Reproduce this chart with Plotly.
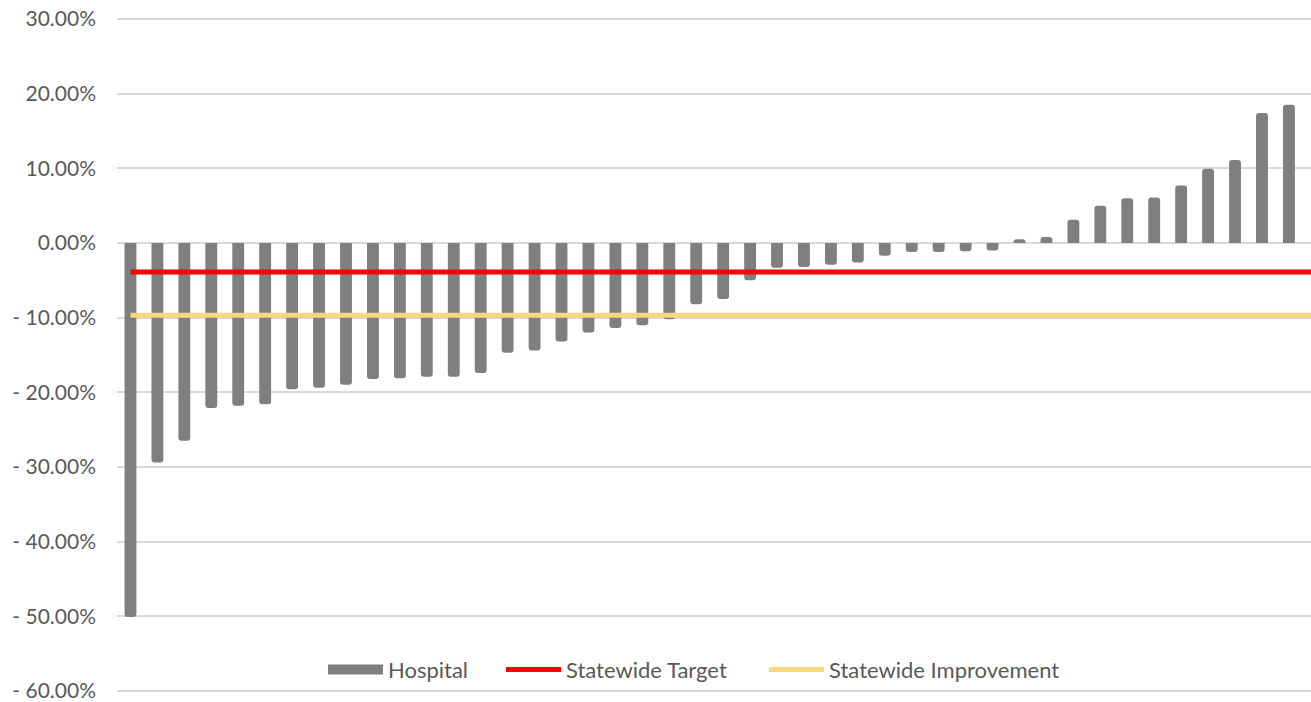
import plotly.graph_objects as go

# Change in rate per hospital, sorted ascending (percent)
hospital_change = [
    -50.1, -29.4, -26.5, -22.1, -21.8, -21.6, -19.6, -19.4, -19.0, -18.2,
    -18.1, -17.9, -17.9, -17.4, -14.7, -14.4, -13.2, -12.0, -11.4, -11.0,
    -10.2, -8.2, -7.5, -5.0, -3.3, -3.2, -2.9, -2.6, -1.7, -1.2,
    -1.2, -1.1, -1.0, 0.5, 0.8, 3.1, 5.0, 6.0, 6.1, 7.7,
    9.95, 11.1, 17.4, 18.5,
]
hospital_index = list(range(len(hospital_change)))

statewide_target = -3.88
statewide_improvement = -9.68

tick_values = [30, 20, 10, 0, -10, -20, -30, -40, -50, -60]
tick_labels = ["30.00%", "20.00%", "10.00%", "0.00%", "- 10.00%", "- 20.00%",
               "- 30.00%", "- 40.00%", "- 50.00%", "- 60.00%"]

FONT = "Lato"
TEXT_COLOR = "#595959"
LEGEND_FONT = dict(family=FONT, size=22, color=TEXT_COLOR)

fig = go.Figure()

fig.add_trace(go.Bar(
    x=hospital_index,
    y=hospital_change,
    name="Hospital",
    width=0.44,
    marker=dict(color="#7f7f7f", line=dict(width=0), cornerradius=3),
    showlegend=False,
))

# Reference lines run from the first hospital across the rest of the axis
line_x = [hospital_index[0], hospital_index[-1] + 2]

# Legend swatch for the bars (wide grey block)
fig.add_trace(go.Scatter(
    x=[None], y=[None], mode="lines", name="Hospital",
    line=dict(color="#7f7f7f", width=15), legend="legend",
))
fig.add_trace(go.Scatter(
    x=line_x, y=[statewide_target] * 2, mode="lines", name="Statewide Target",
    line=dict(color="#ff0000", width=5), legend="legend2",
))
fig.add_trace(go.Scatter(
    x=line_x, y=[statewide_improvement] * 2, mode="lines",
    name="Statewide Improvement",
    line=dict(color="#f9d77b", width=5), legend="legend3",
))


def legend_box(x):
    return dict(
        orientation="h", x=x, xanchor="left", y=0.036, yanchor="middle",
        bgcolor="rgba(255,255,255,0)", itemwidth=55, font=LEGEND_FONT,
    )


fig.update_layout(
    width=1311, height=702,
    margin=dict(l=117, r=0, t=16, b=8, autoexpand=False),
    paper_bgcolor="white", plot_bgcolor="white",
    font=dict(family=FONT, size=21, color=TEXT_COLOR),
    xaxis=dict(
        range=[-0.5, 43.82], showticklabels=False, showgrid=False,
        zeroline=False, showline=False, fixedrange=True,
    ),
    yaxis=dict(
        range=[-60.402, 30.402], tickvals=tick_values, ticktext=tick_labels,
        showgrid=True, gridcolor="#d9d9d9", gridwidth=1.5,
        zeroline=False, showline=False, ticks="", ticklen=0,
        ticklabelstandoff=20, ticklabeloverflow="allow",
        tickfont=dict(family=FONT, size=21, color=TEXT_COLOR),
        fixedrange=True,
    ),
    legend=legend_box(0.1725),
    legend2=legend_box(0.3216),
    legend3=legend_box(0.5419),
)

fig.write_html("out.html")
